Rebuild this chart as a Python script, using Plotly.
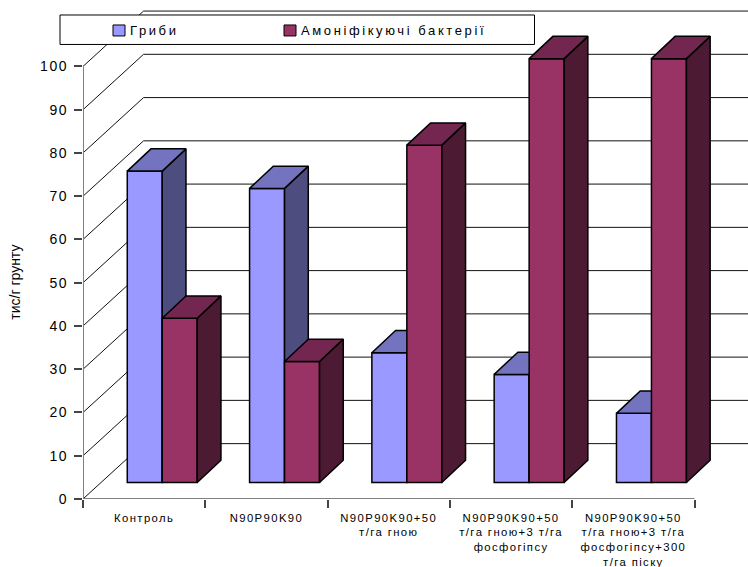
import plotly.graph_objects as go

# Chart data
categories = [
    "Контроль",
    "N90P90K90",
    "N90P90K90+50<br>т/га гною",
    "N90P90K90+50<br>т/га гною+3 т/га<br>фосфогіпсу",
    "N90P90K90+50<br>т/га гною+3 т/га<br>фосфогіпсу+300<br>т/га піску",
]
gryby = [72, 68, 30, 25, 16]
bacteria = [38, 28, 78, 98, 98]
y_ticks = list(range(0, 101, 10))
series_names = ["Гриби", "Амоніфікуючі бактерії"]
y_title = "тис/г грунту"

FONT = "Liberation Sans, Arial, sans-serif"

# Page and plot geometry
W, H = 748, 567
LEFT, BOTTOM = 83, 67.5
X_MAX = (W - LEFT) / 122.3
Y_MAX = (H - BOTTOM) / 4.33

# Oblique projection: wall depth, bar depth and bar placement in axis units
WALL_DX, WALL_DY = 0.495, 12.8
BAR_DX, BAR_DY = 0.194, 5.15
BAR_SHIFT_X, BAR_BASE = 0.148, 3.8
BAR_W = 0.286

# Face colours per series: front, side, top
GRYBY_COL = ("#9999FF", "#4D4D80", "#7373BF")
BACT_COL = ("#993366", "#4D1A33", "#732650")

fig = go.Figure()


def add_poly_trace(polys, color, z):
    xs, ys = [], []
    for px, py in polys:
        xs += px + [px[0], None]
        ys += py + [py[0], None]
    fig.add_trace(go.Scatter(
        x=xs, y=ys, mode="lines", fill="toself", fillcolor=color,
        line=dict(color="black", width=1.5), hoverinfo="skip",
        showlegend=False, zorder=z,
    ))


# Back wall and side wall gridlines
wall_x, wall_y = [], []
for v in y_ticks:
    wall_x += [0, WALL_DX, X_MAX, None]
    wall_y += [v, v + WALL_DY, v + WALL_DY, None]
fig.add_trace(go.Scatter(
    x=wall_x, y=wall_y, mode="lines", line=dict(color="#111111", width=1),
    hoverinfo="skip", showlegend=False, zorder=0,
))


def add_series(values, colors, sign, name, z):
    centers = [i + 0.5 + BAR_SHIFT_X + sign * BAR_W / 2 for i in range(len(values))]
    fig.add_trace(go.Bar(
        x=centers, y=values, base=[BAR_BASE] * len(values), width=BAR_W, name=name,
        marker=dict(color=colors[0], line=dict(color="black", width=1.5)),
        showlegend=False, zorder=z,
    ))
    sides, tops = [], []
    for c, v in zip(centers, values):
        x0, x1 = c - BAR_W / 2, c + BAR_W / 2
        top = BAR_BASE + v
        sides.append(([x1, x1, x1 + BAR_DX, x1 + BAR_DX],
                      [BAR_BASE, top, top + BAR_DY, BAR_BASE + BAR_DY]))
        tops.append(([x0, x1, x1 + BAR_DX, x0 + BAR_DX],
                     [top, top, top + BAR_DY, top + BAR_DY]))
    add_poly_trace(sides, colors[1], z)
    add_poly_trace(tops, colors[2], z)


add_series(gryby, GRYBY_COL, -1, series_names[0], 1)
add_series(bacteria, BACT_COL, 1, series_names[1], 2)

# Axis lines stop at the last tick, short of the plot edges
fig.add_trace(go.Scatter(
    x=[0, 0, len(categories)], y=[y_ticks[-1], 0, 0], mode="lines",
    line=dict(color="#808080", width=2), cliponaxis=False,
    hoverinfo="skip", showlegend=False, zorder=3,
))


def px_x(p):
    return (p - LEFT) / (W - LEFT)


def px_y(p):
    return 1 - p / (H - BOTTOM)


# Legend box with swatches and labels
shapes = [dict(type="rect", xref="paper", yref="paper",
               x0=px_x(60), x1=px_x(534.5), y0=px_y(44.5), y1=px_y(15),
               fillcolor="white", line=dict(color="black", width=1), layer="above")]
annotations = []
for sx, col, name in [(113, GRYBY_COL[0], series_names[0]), (284, BACT_COL[0], series_names[1])]:
    shapes.append(dict(type="rect", xref="paper", yref="paper",
                       x0=px_x(sx), x1=px_x(sx + 12), y0=px_y(36), y1=px_y(25),
                       fillcolor=col, line=dict(color="black", width=1), layer="above"))
    annotations.append(dict(text=name, xref="paper", yref="paper", x=px_x(sx + 15), y=px_y(30.5),
                            xanchor="left", yanchor="middle", align="left", showarrow=False,
                            font=dict(family=FONT, size=13, color="black")))

# Rotated value-axis caption
annotations.append(dict(text=y_title, xref="paper", yref="paper", x=px_x(15), y=px_y(283),
                        xanchor="center", yanchor="middle", textangle=-90, showarrow=False,
                        font=dict(family=FONT, size=14, color="black")))

fig.update_layout(
    width=W, height=H, margin=dict(l=LEFT, r=0, t=0, b=BOTTOM, autoexpand=False),
    paper_bgcolor="white", plot_bgcolor="white", showlegend=False, barmode="overlay",
    shapes=shapes, annotations=annotations,
    xaxis=dict(
        range=[0, X_MAX], showgrid=False, zeroline=False, showline=False,
        tickmode="array", tickvals=[i + 0.5 for i in range(len(categories))], ticktext=categories,
        ticks="outside", ticklen=0, tickangle=0, ticklabelstandoff=8,
        tickfont=dict(family=FONT, size=11.3, color="black"),
        minor=dict(tickmode="array", tickvals=list(range(len(categories) + 1)),
                   ticks="outside", ticklen=8, tickwidth=1.5, tickcolor="#444444", showgrid=False),
    ),
    yaxis=dict(
        range=[0, Y_MAX], showgrid=False, zeroline=False, showline=False,
        tickmode="array", tickvals=y_ticks, ticks="outside", ticklen=8, tickwidth=1.5,
        tickcolor="#444444", tickfont=dict(family=FONT, size=14, color="black"),
        ticklabelstandoff=3,
    ),
)

# Wide tracking on the chart's text
tracking = """
var spacing = {'.ytick text': '1.6px', '.xtick text': '1.4px', '.annotation-text': '2.6px'};
Object.keys(spacing).forEach(function (sel) {
  document.querySelectorAll(sel).forEach(function (t) { t.style.letterSpacing = spacing[sel]; });
});
document.querySelectorAll('.annotation-text').forEach(function (t) {
  if (t.textContent === 'тис/г грунту') { t.style.letterSpacing = '0'; }
});
"""
fig.write_html("out.html", post_script=tracking)
